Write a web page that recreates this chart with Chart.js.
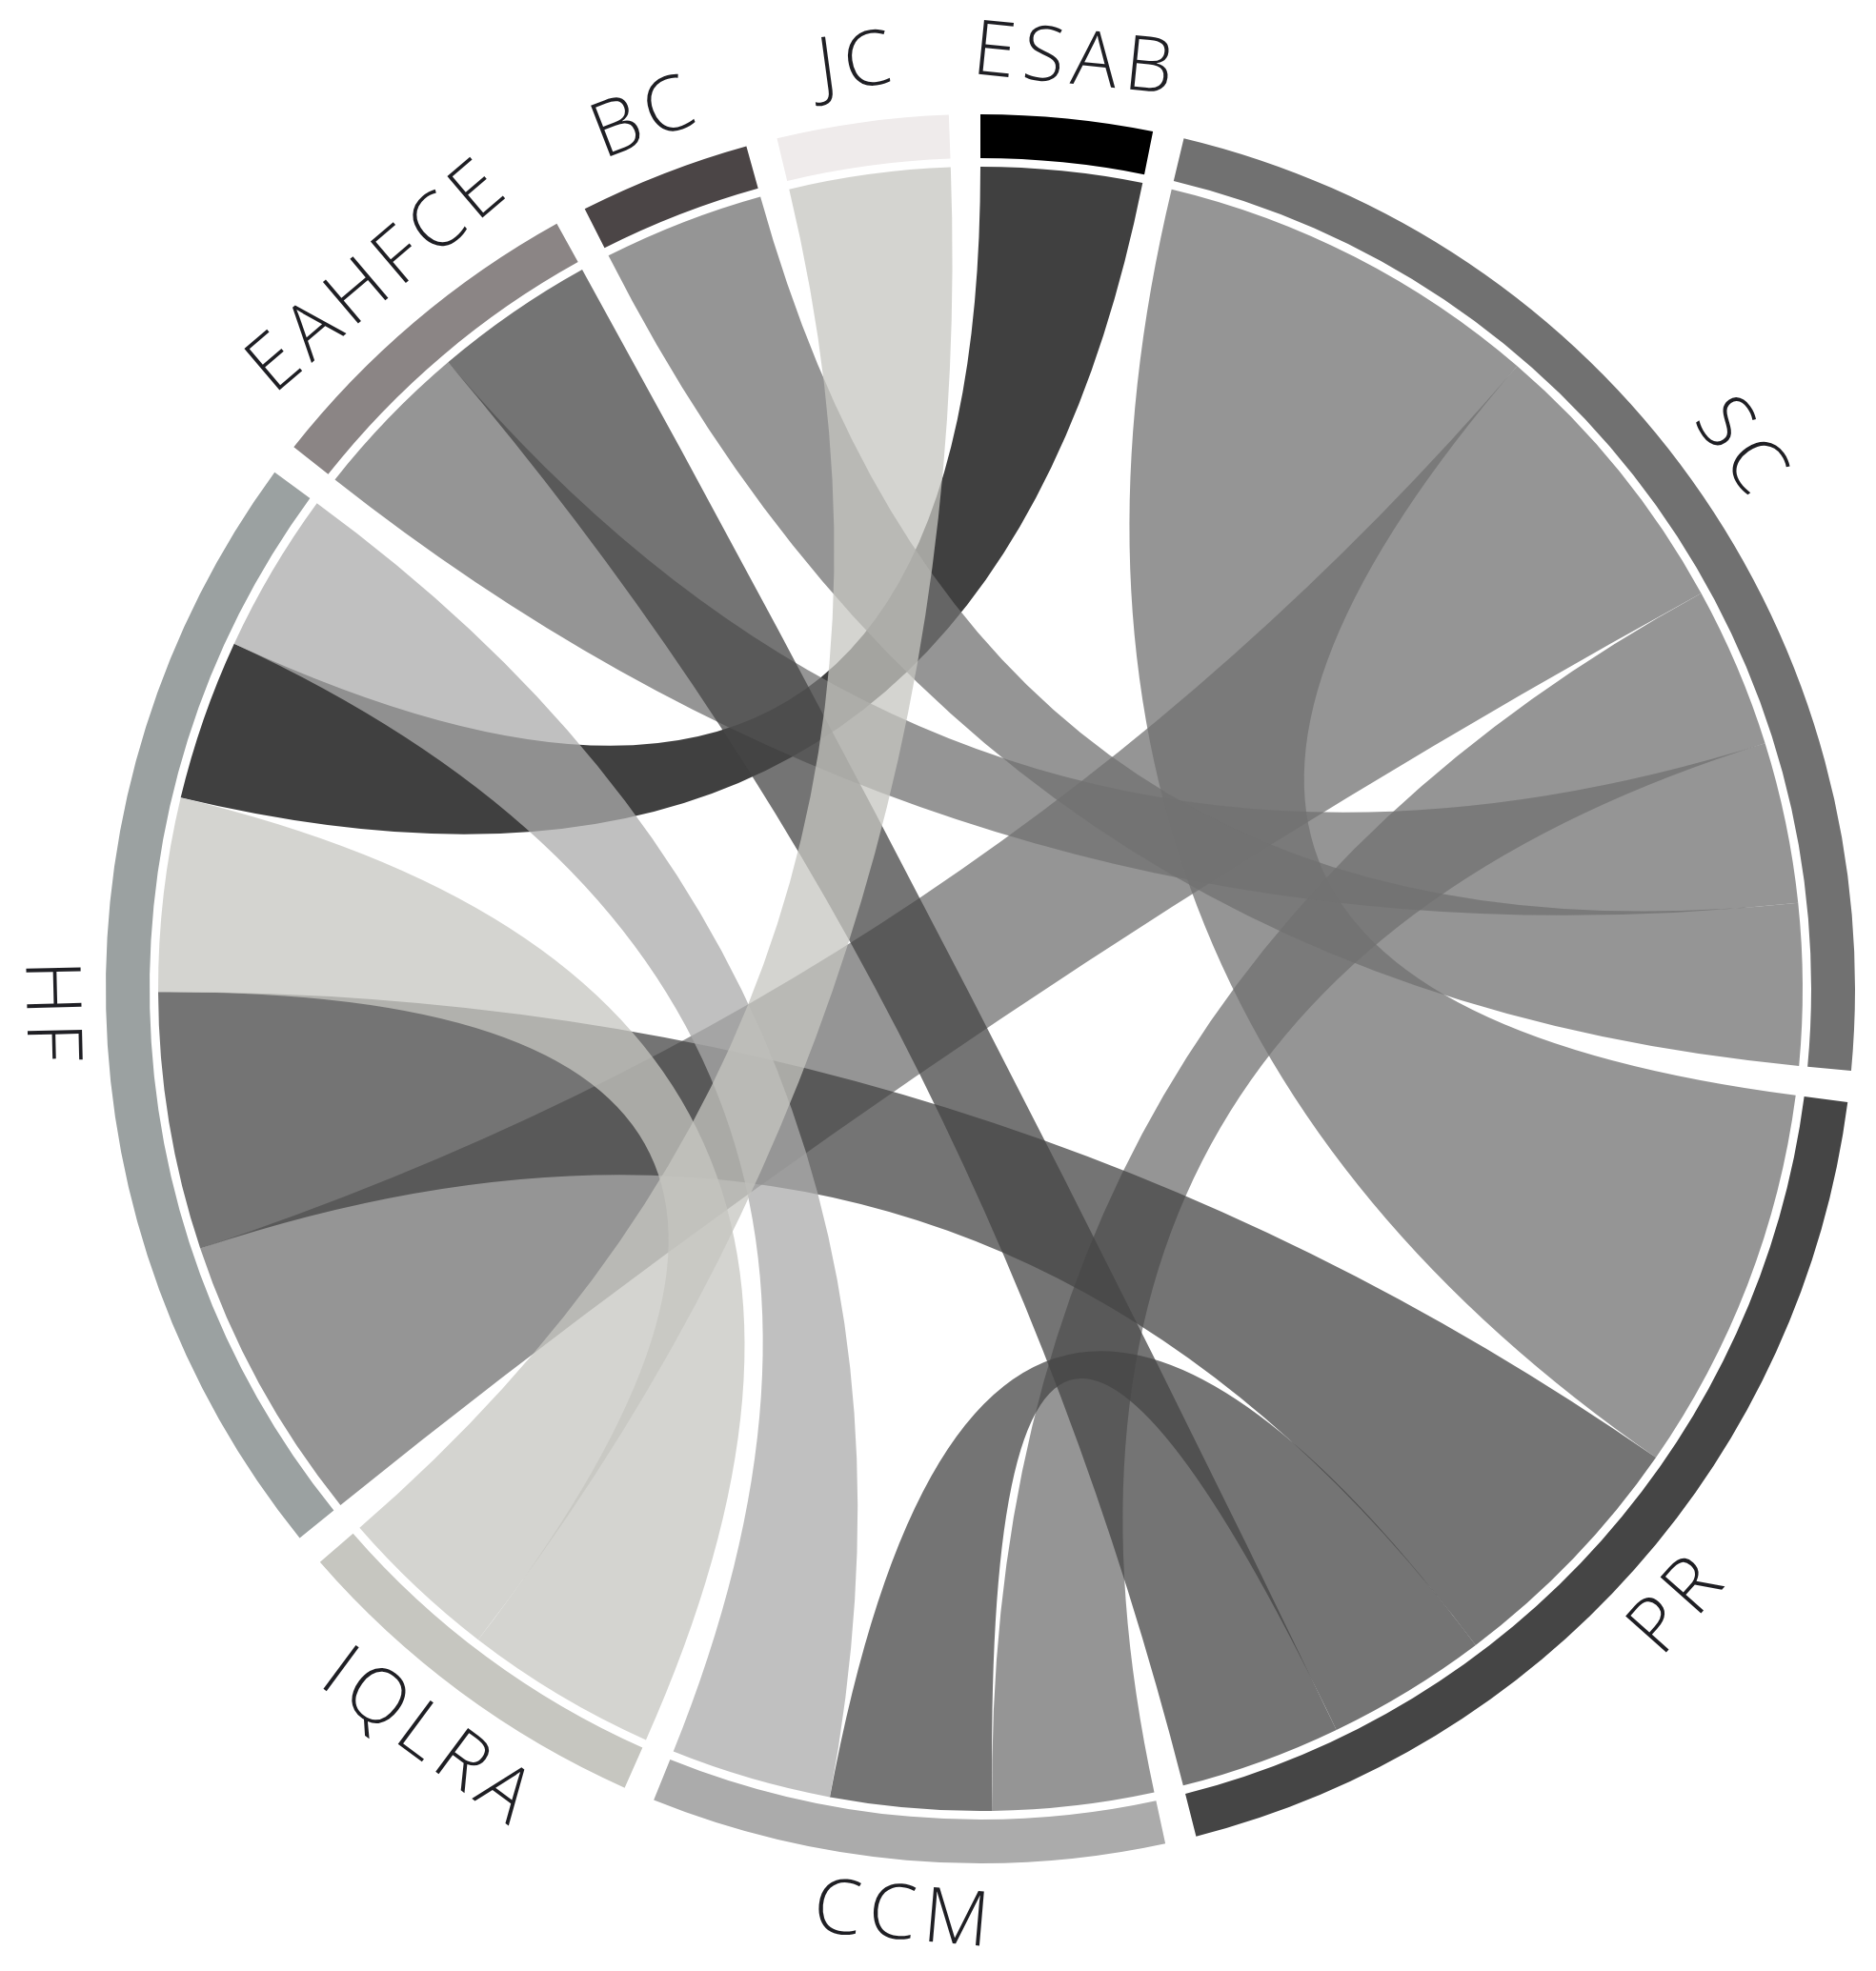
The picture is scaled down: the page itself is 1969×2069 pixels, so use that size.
<!DOCTYPE html>
<html>
<head>
<meta charset="utf-8">
<title>Chord diagram</title>
<script src="https://cdn.jsdelivr.net/npm/chart.js@4.4.1/dist/chart.umd.min.js"></script>
<style>
  html, body { margin: 0; padding: 0; background: #ffffff; }
  #wrap { width: 1969px; height: 2069px; }
</style>
</head>
<body>
<div id="wrap"><canvas id="chart" width="1969" height="2069"></canvas></div>
<script>
// groups, clockwise from the top
const groups = ["ESAB", "SC", "PR", "CCM", "IQLRA", "HF", "EAHFCE", "BC", "JC"];
const groupColors = ["#000000", "#717171", "#454545", "#ababab", "#c6c6c0", "#9ba1a1", "#8b8585", "#4b4546", "#efebeb"];

// links (symmetric), ribbon takes the colour of linkFrom
const linkFrom = ["ESAB", "SC", "SC", "SC", "SC", "SC", "PR", "PR", "PR", "CCM", "IQLRA", "IQLRA"];
const linkTo = ["HF", "PR", "CCM", "HF", "EAHFCE", "BC", "CCM", "HF", "EAHFCE", "HF", "HF", "JC"];
const linkValues = [5, 12, 5, 9, 5, 5, 5, 8, 5, 5, 6, 5];

// look
const PAD_DEG = 2.07;       // gap between groups
const RING_CUTOUT = 872;    // inner radius of the outer ring (px)
const RIBBON_GAP = 9;       // white space between ring and ribbons
const RIBBON_ALPHA = 0.75;
const LABEL_RADIUS = 978;

// total per group = sum of its links
const groupTotals = groups.map((g) => {
  let sum = 0;
  linkFrom.forEach((f, k) => {
    if (f === g || linkTo[k] === g) sum += linkValues[k];
  });
  return sum;
});
const grandTotal = groupTotals.reduce((a, b) => a + b, 0);
const padValue = (grandTotal * PAD_DEG) / (360 - groups.length * PAD_DEG);

// ring dataset: each group followed by an empty pad slice
const ringData = [];
const ringColors = [];
const ringLabels = [];
groups.forEach((g, i) => {
  ringData.push(groupTotals[i], padValue);
  ringColors.push(groupColors[i], "rgba(0,0,0,0)");
  ringLabels.push(g, "");
});

const hexToRgba = (hex, a) => {
  const n = parseInt(hex.slice(1), 16);
  return `rgba(${(n >> 16) & 255}, ${(n >> 8) & 255}, ${n & 255}, ${a})`;
};

// split every group arc into sub-arcs, biggest link first (ties by group order)
const computeEnds = (arcs) => {
  const ends = linkFrom.map(() => ({}));
  groups.forEach((g, i) => {
    const members = [];
    linkFrom.forEach((f, k) => {
      if (f === g) members.push({ k, side: "from", other: groups.indexOf(linkTo[k]) });
      else if (linkTo[k] === g) members.push({ k, side: "to", other: groups.indexOf(f) });
    });
    members.sort((a, b) => linkValues[b.k] - linkValues[a.k] || a.other - b.other);
    const arc = arcs[i];
    const scale = (arc.endAngle - arc.startAngle) / groupTotals[i];
    let a = arc.startAngle;
    members.forEach((m) => {
      const b = a + linkValues[m.k] * scale;
      ends[m.k][m.side] = [a, b];
      a = b;
    });
  });
  return ends;
};

const chordPlugin = {
  id: "chords",
  afterDatasetsDraw(chart) {
    const ctx = chart.ctx;
    const meta = chart.getDatasetMeta(0);
    const arcs = groups.map((g, i) => meta.data[i * 2]);
    const cx = arcs[0].x;
    const cy = arcs[0].y;
    const r = arcs[0].innerRadius - RIBBON_GAP;
    const ends = computeEnds(arcs);
    const pt = (ang) => [cx + r * Math.cos(ang), cy + r * Math.sin(ang)];

    // ribbons
    ctx.save();
    linkFrom.forEach((f, k) => {
      const [s0, s1] = ends[k].from;
      const [t0, t1] = ends[k].to;
      const p0 = pt(s0);
      const q0 = pt(t0);
      ctx.beginPath();
      ctx.moveTo(p0[0], p0[1]);
      ctx.arc(cx, cy, r, s0, s1);
      ctx.quadraticCurveTo(cx, cy, q0[0], q0[1]);
      ctx.arc(cx, cy, r, t0, t1);
      ctx.quadraticCurveTo(cx, cy, p0[0], p0[1]);
      ctx.closePath();
      ctx.fillStyle = hexToRgba(groupColors[groups.indexOf(f)], RIBBON_ALPHA);
      ctx.fill();
    });
    ctx.restore();

    // group labels, turned along the circle
    ctx.save();
    ctx.font = "350 80px 'Open Sans'";
    ctx.fillStyle = "#1f1f24";
    ctx.textAlign = "center";
    ctx.textBaseline = "middle";
    if ("letterSpacing" in ctx) ctx.letterSpacing = "8px";
    arcs.forEach((arc, i) => {
      const mid = (arc.startAngle + arc.endAngle) / 2;
      let theta = mid + Math.PI / 2;
      theta = ((theta % (2 * Math.PI)) + 2 * Math.PI) % (2 * Math.PI);
      const rot = theta > Math.PI / 2 && theta < (3 * Math.PI) / 2 ? theta - Math.PI : theta;
      ctx.save();
      ctx.translate(cx + LABEL_RADIUS * Math.cos(mid), cy + LABEL_RADIUS * Math.sin(mid));
      ctx.rotate(rot);
      ctx.fillText(groups[i], 4, 0);
      ctx.restore();
    });
    ctx.restore();
  },
};

new Chart(document.getElementById("chart"), {
  type: "doughnut",
  data: {
    labels: ringLabels,
    datasets: [
      {
        data: ringData,
        backgroundColor: ringColors,
        borderWidth: 0,
        hoverOffset: 0,
      },
    ],
  },
  options: {
    responsive: false,
    animation: false,
    events: [],
    cutout: RING_CUTOUT,
    rotation: 0,
    layout: { padding: { left: 111, right: 22, top: 120, bottom: 113 } },
    plugins: {
      legend: { display: false },
      tooltip: { enabled: false },
    },
  },
  plugins: [chordPlugin],
});
</script>
</body>
</html>
